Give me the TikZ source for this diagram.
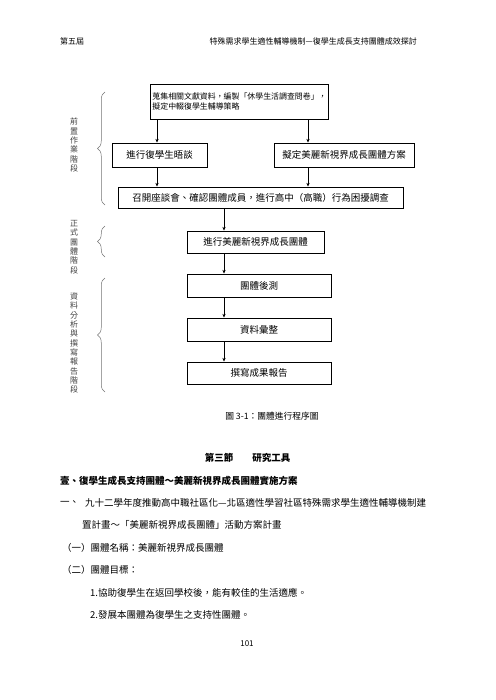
\documentclass[tikz,border=0pt]{standalone}
\usepackage{fontspec}
\setmainfont{Noto Sans CJK TC}
\usetikzlibrary{arrows.meta,positioning,decorations.pathreplacing}
\newcommand{\boxfont}{\fontsize{11.4}{13}\selectfont}
\newcommand{\bodyfont}{\fontsize{11.4}{13}\selectfont}

\begin{document}
\begin{tikzpicture}[x=1.2pt,y=-1.2pt,
  stepbox/.style={draw,line width=1.1pt,inner sep=2pt,font=\boxfont},
  arr/.style={-{Stealth[length=4.5pt,width=4pt]},line width=0.6pt},
  brc/.style={decorate,decoration={brace,amplitude=9pt},draw=black!55,line width=0.6pt},
  vlabel/.style={align=center,font=\fontsize{9.6}{11.2}\selectfont,text=black!75},
  body/.style={anchor=west,font=\bodyfont,inner sep=0pt}]

    %\draw (0,0) grid (495,700);
    \useasboundingbox (0,0) rectangle (495,700);

    % header
    \node[anchor=west,inner sep=0pt,font=\fontsize{9.6}{11}\selectfont] (hdl) at (60,41) {第五屆};
    \node[anchor=east,inner sep=0pt,font=\fontsize{9.6}{11}\selectfont] (hdr) at (417,41)
        {特殊需求學生適性輔導機制—復學生成長支持團體成效探討};

    % columns of the arrows
    \coordinate (colL) at (157,0);
    \coordinate (colR) at (308,0);
    \coordinate (colM) at (224,0);

    % boxes
    \node[stepbox,minimum width=177*1.2pt,minimum height=35*1.2pt,align=left,
          font=\fontsize{9.5}{12.5}\selectfont] (prep) at (239.5,101.5)
        {蒐集相關文獻資料，編製「休學生活調查問卷」，\\擬定中輟復學生輔導策略};
    \node[stepbox,minimum width=95*1.2pt,minimum height=24*1.2pt] (talk) at (159.5,155) {進行復學生晤談};
    \node[stepbox,minimum width=140*1.2pt,minimum height=24*1.2pt] (plan) at (344,155) {擬定美麗新視界成長團體方案};
    \node[stepbox,minimum width=285*1.2pt,minimum height=21*1.2pt] (meet) at (260.5,197.5)
        {召開座談會、確認團體成員，進行高中（高職）行為困擾調查};
    \node[stepbox,minimum width=137*1.2pt,minimum height=22*1.2pt] (group) at (255.5,242) {進行美麗新視界成長團體};
    \node[stepbox,minimum width=144*1.2pt,minimum height=23*1.2pt] (post) at (259,285.5) {團體後測};
    \node[stepbox,minimum width=144*1.2pt,minimum height=23*1.2pt] (data) at (259,329.5) {資料彙整};
    \node[stepbox,minimum width=144*1.2pt,minimum height=22*1.2pt] (report) at (259,373) {撰寫成果報告};

    % arrows
    \draw[arr] (prep.south -| colL) -- (talk.north -| colL);
    \draw[arr] (prep.south -| colR) -- (plan.north -| colR);
    \draw[arr] (talk.south -| colL) -- (meet.north -| colL);
    \draw[arr] (plan.south -| colR) -- (meet.north -| colR);
    \draw[arr] (meet.south -| colM) -- (group.north -| colM);
    \draw[arr] (group.south -| colM) -- (post.north -| colM);
    \draw[arr] (post.south -| colM) -- (data.north -| colM);
    \draw[arr] (data.south -| colM) -- (report.north -| colM);

    % stages
    \coordinate (b1t) at (105,92);
    \coordinate (b1b) at (105,205);
    \coordinate (b2t) at (105,226);
    \coordinate (b2b) at (105,257);
    \coordinate (b3t) at (105,278);
    \coordinate (b3b) at (105,392);
    \draw[brc] (b1b) -- (b1t);
    \draw[brc] (b2b) -- (b2t);
    \draw[brc] (b3b) -- (b3t);

    \node[vlabel] (st1) at (74,145) {前\\置\\作\\業\\階\\段};
    \node[vlabel] (st2) at (74,247) {正\\式\\團\\體\\階\\段};
    \node[vlabel] (st3) at (74,343) {資\\料\\分\\析\\與\\撰\\寫\\報\\告\\階\\段};

    % text below
    \node[font=\fontsize{10.5}{12}\selectfont] (cap) at (272,416) {圖 3-1：團體進行程序圖};
    \node[font=\bodyfont\bfseries] (sec) at (247.5,458) {第三節　　研究工具};
    \node[body,font=\bodyfont\bfseries] (l1) at (60,481) {壹、復學生成長支持團體～美麗新視界成長團體實施方案};
    \node[body] (l2a) at (60,503) {一、};
    \node[body] (l2) at (85,503) {九十二學年度推動高中職社區化—北區適性學習社區特殊需求學生適性輔導機制建};
    \node[body] (l3) at (82,525) {置計畫～「美麗新視界成長團體」活動方案計畫};
    \node[body] (l4) at (62,548) {（一）團體名稱：美麗新視界成長團體};
    \node[body] (l5) at (62,570) {（二）團體目標：};
    \node[body] (l6) at (90,593) {1.協助復學生在返回學校後，能有較佳的生活適應。};
    \node[body] (l7) at (90,615) {2.發展本團體為復學生之支持性團體。};
    \node[font=\fontsize{9.6}{11}\selectfont] (pg) at (247,644) {101};

\end{tikzpicture}
\end{document}
